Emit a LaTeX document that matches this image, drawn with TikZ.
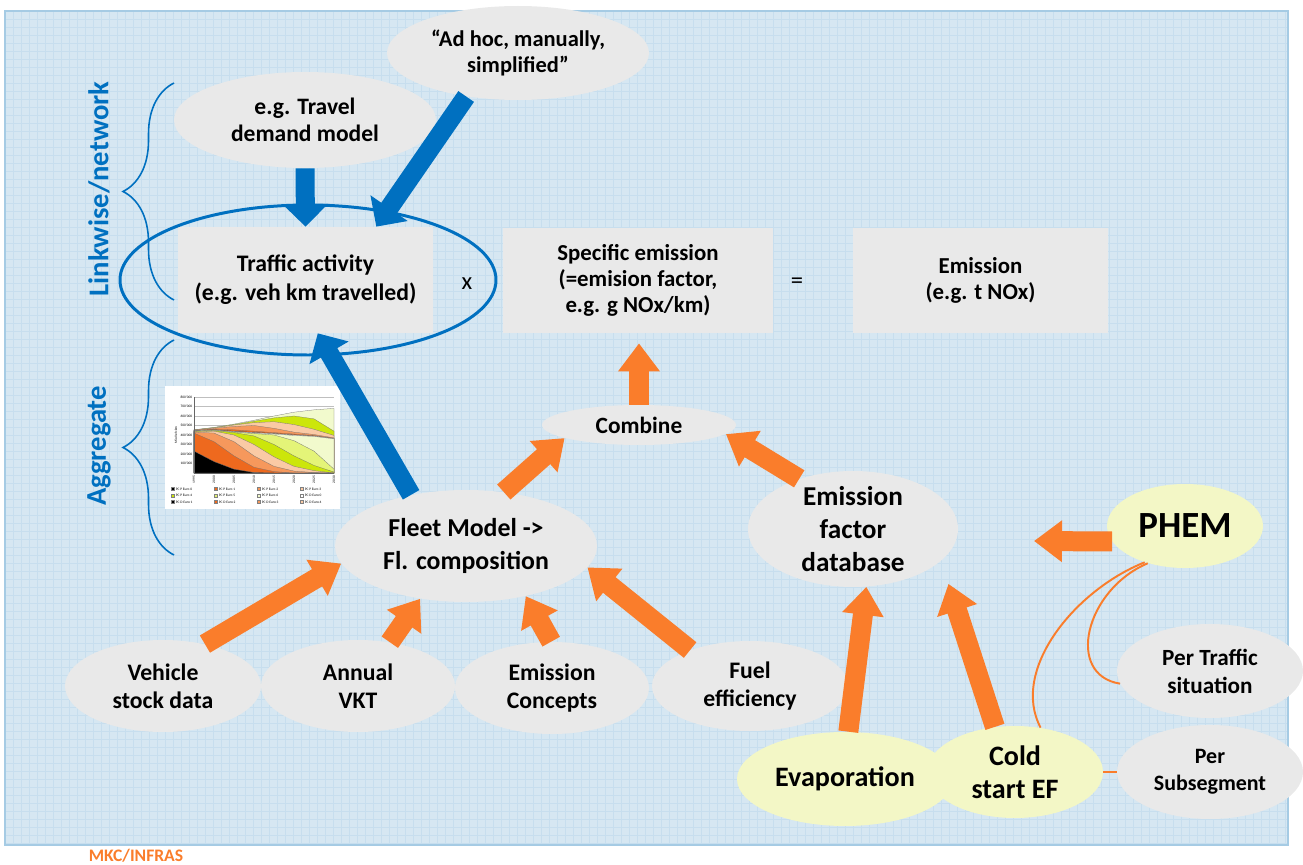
\documentclass[tikz,border=0pt]{standalone}
\usepackage{fontspec}
\setmainfont{Carlito}
\usetikzlibrary{shapes.geometric,arrows.meta,decorations.pathreplacing}

\definecolor{bgblue}{RGB}{214,231,242}
\definecolor{gridblue}{RGB}{199,222,238}
\definecolor{edgeblue}{RGB}{165,203,228}
\definecolor{lgray}{RGB}{233,233,233}
\definecolor{lyellow}{RGB}{243,247,198}
\definecolor{orng}{RGB}{250,125,43}
\definecolor{mblue}{RGB}{0,112,192}
% chart colours
\definecolor{cdkor}{RGB}{238,105,30}
\definecolor{cor}{RGB}{246,152,92}
\definecolor{cltor}{RGB}{250,202,165}
\definecolor{cygrn}{RGB}{204,230,10}
\definecolor{clgrn}{RGB}{228,244,120}
\definecolor{cpale}{RGB}{242,250,205}

\newcommand\fsz[2]{\fontsize{#1}{#2}\selectfont}

\tikzset{
  ell/.style 2 args={ellipse, fill=lgray, inner sep=0pt, align=center,
    minimum width=#1*0.02cm, minimum height=#2*0.02cm},
  yell/.style 2 args={ell={#1}{#2}, fill=lyellow},
  box/.style 2 args={rectangle, fill=lgray, inner sep=0pt, align=center,
    minimum width=#1*0.02cm, minimum height=#2*0.02cm},
  ring/.style={ellipse, draw=mblue, line width=1.7pt, inner sep=0pt,
    minimum width=376*0.02cm, minimum height=150*0.02cm},
  oarrow/.style={draw=orng, line width=0.4cm, -{Triangle[width=0.8cm,length=0.56cm]}},
  barrow/.style={draw=mblue, line width=0.38cm, -{Triangle[width=0.88cm,length=0.45cm]}},
  thinline/.style={draw=orng, line width=1.1pt},
  brc/.style={draw=mblue, line width=0.9pt, decorate, decoration={brace, amplitude=1.02cm}},
  sidelabel/.style={text=mblue, font=\fsz{16.3}{19}\bfseries, rotate=90},
  chartlbl/.style={inner sep=0.3pt, font=\fsz{2}{2.4}},
}

\begin{document}
\begin{tikzpicture}[x=0.02cm, y=-0.02cm]
\useasboundingbox (0,0) rectangle (1303,865);

% background sheet
\fill[bgblue] (5,11) rectangle (1288,845);
\foreach \gx in {13,21,...,1285} \draw[gridblue, line width=0.35pt] (\gx,11) -- (\gx,845);
\foreach \gy in {19,27,...,843} \draw[gridblue, line width=0.35pt] (5,\gy) -- (1288,\gy);
\draw[edgeblue, line width=0.8pt] (5,11) rectangle (1288,845);

% small fleet chart
\fill[white] (165,386) rectangle (340,509);
\foreach \gy in {1,...,8} \draw[black!25, line width=0.2pt] (194,473-9.5*\gy) -- (334,473-9.5*\gy);
\foreach \col/\vals in {cpale/{455,480,515,555,600,640,665,680},
                        cygrn/{454,478,510,545,580,600,570,440},
                        cltor/{453,475,505,530,540,510,460,395},
                        cor/{452,470,490,500,470,430,405,370},
                        cdkor/{450,460,455,440,425,410,395,365},
                        black/{448,455,440,427,416,401,389,362},
                        white/{445,452,437,425,415,400,388,361},
                        cpale/{440,448,432,420,410,395,385,360},
                        clgrn/{440,447,430,415,400,340,230,40},
                        cygrn/{440,445,425,390,300,180,80,10},
                        cltor/{435,440,400,300,170,70,25,0},
                        cor/{430,420,330,180,70,20,5,0},
                        cdkor/{420,330,180,60,15,0,0,0},
                        black/{230,120,40,5,0,0,0,0}}
  \filldraw[fill=\col, draw=black!55, line width=0.15pt] (194,473)
    \foreach \v [count=\i from 0] in \vals {-- (194+20*\i,473-0.095*\v)} -- (334,473) -- cycle;
\draw[black!60, line width=0.3pt] (194,397) -- (194,473) -- (334,473);
\foreach \gy in {1,...,8} \node[chartlbl, anchor=east] (ytick\gy) at (193,473-9.5*\gy) {\gy00'000};
\node[chartlbl, rotate=90] (ytitle) at (176,435) {Mio Veh-km};
\foreach \yr [count=\i from 0] in {1995,2000,...,2030}
  \node[chartlbl, rotate=90, anchor=east] (year\i) at (194+20*\i,475) {\yr};
\foreach \lc/\lt [count=\k from 0] in {black/PC P Euro 0, cdkor/PC P Euro 1, cor/PC P Euro 2, cltor/PC P Euro 3,
    cygrn/PC P Euro 4, clgrn/PC P Euro 5, cpale/PC P Euro 6, white/PC D Euro 0,
    black/PC D Euro 1, cdkor/PC D Euro 2, cor/PC D Euro 3, cltor/PC D Euro 4} {
  \pgfmathsetmacro\lx{173+43*mod(\k,4)}
  \pgfmathsetmacro\ly{489+6.5*floor(\k/4)}
  \filldraw[fill=\lc, draw=black!50, line width=0.1pt] (\lx-1.5,\ly-1.5) rectangle (\lx+1.5,\ly+1.5);
  \node[chartlbl, anchor=west] (leg\k) at (\lx+2,\ly) {\lt};
}

% braces and side labels
\draw[brc] (174,300) -- (174,83);
\draw[brc] (174,555) -- (174,340);
\node[sidelabel] (linkwise) at (99,189) {Linkwise/network};
\node[sidelabel] (aggregate) at (99,446) {Aggregate};

% main row
\node[box={255}{106}, font=\fsz{13.5}{16.4}\bfseries] (traffic) at (305.5,280) {Traffic activity\\(e.g. veh km travelled)};
\node[box={270}{105}, font=\fsz{13}{14.7}\bfseries] (specific) at (638,280.5) {Specific emission\\(=emision factor,\\e.g. g NOx/km)};
\node[box={255}{105}, font=\fsz{13}{14.7}\bfseries] (emission) at (980.5,280.5) {Emission\\(e.g. t NOx)};
\node[font=\fsz{14}{16}] (times) at (467,284) {x};
\node[font=\fsz{14}{16}] (equals) at (797,283) {=};
\node[ring] (lwell) at (308,280) {};

% sources
\node[ell={262}{94}, font=\fsz{12.8}{15}\bfseries] (adhoc) at (518,53) {``Ad hoc, manually,\\simplified''};
\node[ell={262}{96}, font=\fsz{13.4}{15.3}\bfseries] (travel) at (305,120) {e.g. Travel\\demand model};
\node[ell={194}{40}, font=\fsz{13.3}{15}\bfseries] (combine) at (639,425) {Combine};
\node[ell={262}{112}, font=\fsz{14.7}{18.7}\bfseries] (fleet) at (466,546) {Fleet Model ->\\Fl. composition};
\node[ell={210}{116}, inner ysep=-4pt, font=\fsz{15.5}{18.7}\bfseries] (efdb) at (853,529) {Emission\\factor\\database};
\node[yell={156}{84}, font=\fsz{21}{24}\bfseries] (phem) at (1185,526) {PHEM};
\coordinate (phemtip) at (1034,541);

% bottom row
\node[ell={196}{92}, font=\fsz{13.5}{15.9}\bfseries] (stock) at (163,686) {Vehicle\\stock data};
\node[ell={194}{92}, font=\fsz{13.5}{15.9}\bfseries] (vkt) at (358,686) {Annual\\VKT};
\node[ell={194}{92}, font=\fsz{13.5}{15.9}\bfseries] (concepts) at (552,688) {Emission\\Concepts};
\node[ell={196}{90}, font=\fsz{13.5}{15.9}\bfseries] (fuel) at (750,686) {Fuel\\efficiency};
\node[yell={216}{94}, font=\fsz{16}{18.7}\bfseries] (evap) at (845,779) {Evaporation};
\node[yell={176}{92}, font=\fsz{16}{18.7}\bfseries] (cold) at (1015,772) {Cold\\start EF};
\node[ell={186}{94}, font=\fsz{13.2}{15.9}\bfseries] (pertraffic) at (1210,671) {Per Traffic\\situation};
\node[ell={186}{94}, font=\fsz{12.5}{15.3}\bfseries] (persub) at (1210,772) {Per\\Subsegment};

% blue arrows
\draw[barrow] (travel.south) -- (traffic.north);
\draw[barrow] (adhoc.220) -- (traffic.37);
\draw[barrow] (fleet.137) -- (traffic.283);

% orange arrows
\draw[oarrow, shorten >=0.2cm] (combine.north) -- (combine.north |- specific.south);
\draw[oarrow] (fleet.55) -- (combine.190);
\draw[oarrow] (efdb.137) -- (combine.-6);
\draw[oarrow] (phem.192) -- (phemtip);
\draw[oarrow] (stock.45) -- (fleet.188);
\draw[oarrow] (vkt.54) -- (fleet.229);
\draw[oarrow] (concepts.91) -- (fleet.320);
\draw[oarrow] (fuel.149) -- (fleet.350);
\draw[oarrow] (evap.86) -- (efdb.283);
\draw[oarrow, shorten >=0.48cm] (cold.114) -- (efdb.340);

% thin links
\draw[thinline] (phem.222) .. controls (1075,590) and (1010,670) .. (cold.60);
\draw[thinline] (phem.225) .. controls (1085,590) and (1065,675) .. (pertraffic.188);
\draw[thinline] (cold.east) -- (persub.west);

\node[text=orng, font=\fsz{10}{11}\bfseries, inner sep=1pt] (source) at (136,856) {MKC/INFRAS};
\end{tikzpicture}
\end{document}
